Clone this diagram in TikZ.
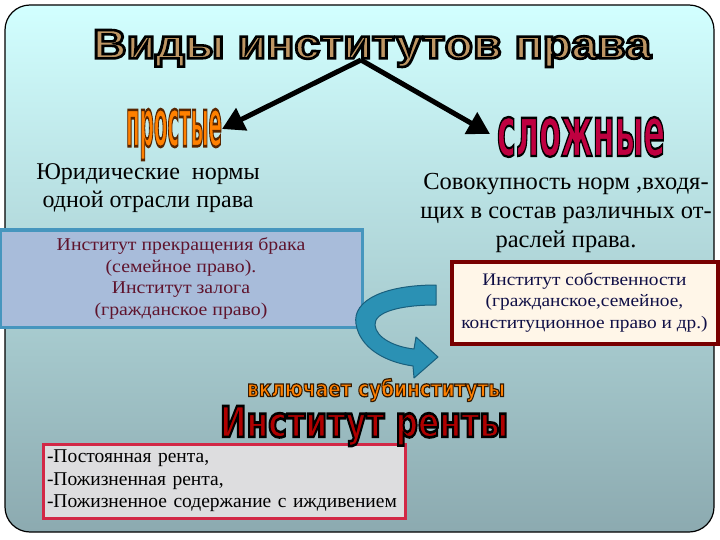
\documentclass[tikz,border=0pt]{standalone}
\usepackage{fontspec}
\setmainfont{Liberation Serif}
\newfontfamily\widef{Liberation Serif}[FakeStretch=1.1]
\newfontfamily\sansf{Liberation Sans}
\newfontfamily\heavyf{DejaVu Sans}
\usepackage{graphicx}
\usetikzlibrary{arrows.meta,fadings}
\definecolor{bgtop}{RGB}{210,255,255}
\definecolor{bgbot}{RGB}{140,170,176}
\definecolor{bluefill}{RGB}{168,188,218}
\definecolor{blueedge}{RGB}{70,150,190}
\definecolor{maroon}{RGB}{95,20,45}
\definecolor{redfill}{RGB}{255,246,232}
\definecolor{rededge}{RGB}{120,0,0}
\definecolor{navy}{RGB}{15,15,70}
\definecolor{grayfill}{RGB}{221,221,223}
\definecolor{crimson}{RGB}{210,40,70}
\definecolor{tealA}{RGB}{43,145,180}
\definecolor{tealB}{RGB}{25,95,125}
\newcommand\wa[3]{\raisebox{\depth}{\resizebox*{#1}{#2}{#3}}}
\newcommand\outl[3]{\special{pdf:literal direct #2 RG #1 w 2 Tr}#3\special{pdf:literal direct 0 Tr}}
\newcommand\txtTitle{\wa{558pt}{37pt}{\sansf\bfseries\fontsize{40}{40}\selectfont Виды институтов права}}
\newcommand\txtProst{\wa{96pt}{51pt}{\heavyf\bfseries\fontsize{50}{50}\selectfont простые}}
\newcommand\txtSlozh{\wa{168pt}{40pt}{\heavyf\bfseries\fontsize{60}{60}\selectfont сложные}}
\newcommand\txtVkl{\wa{258pt}{23pt}{\heavyf\bfseries\fontsize{22}{22}\selectfont включает субинституты}}
\newcommand\txtRent{\wa{288pt}{40pt}{\heavyf\bfseries\fontsize{40}{40}\selectfont Институт ренты}}
\tikzset{
  bigarr/.style={line width=5pt,-{Triangle[length=22pt,width=24pt]}},
  wart/.style={inner sep=0pt},
  bodytext/.style={align=center,font=\fontsize{24}{28}\selectfont,inner sep=0pt},
  bluebox/.style={draw=blueedge,fill=bluefill,line width=3pt,align=center,text=maroon,
    font=\widef\fontsize{18}{21.5}\selectfont,inner sep=0pt},
  redbox/.style={draw=rededge,fill=redfill,line width=4pt,align=center,text=navy,
    font=\widef\fontsize{17.6}{21.5}\selectfont,inner sep=0pt},
  graybox/.style={draw=crimson,fill=grayfill,line width=3pt,align=left,
    font=\fontsize{19.5}{22.5}\selectfont,inner sep=0pt},
}
\begin{document}
\pgfdeclarefading{ftitle}{\color{white}\txtTitle}
\pgfdeclarefading{fprost}{\color{white}\txtProst}
\pgfdeclarefading{fslozh}{\color{white}\txtSlozh}
\pgfdeclarefading{fvkl}{\color{white}\txtVkl}
\begin{tikzpicture}[x=1pt,y=-1pt]
\useasboundingbox (0,0) rectangle (720,540);
% background panel
\shadedraw[top color=bgtop,bottom color=bgbot,draw=black,line width=1.2pt,rounded corners=25pt]
  (5,5) rectangle (714,532);
% boxes
\node[bluebox,minimum width=362pt,minimum height=97pt] (inst) at (181,278.5)
  {Институт прекращения брака\\(семейное право).\\Институт залога\\(гражданское право)};
\node[redbox,minimum width=266pt,minimum height=82pt] (sobst) at (584.5,302.5)
  {Институт собственности\\(гражданское,семейное,\\конституционное право и др.)};
\node[graybox,minimum width=362pt,minimum height=74pt,text width=354pt] (list) at (224,481)
  {-Постоянная рента,\\-Пожизненная рента,\\-Пожизненное содержание с иждивением};
% body texts
\node[bodytext] (jur) at (148,188) {Юридические\ \ нормы\\одной отрасли права};
\node[bodytext,font=\fontsize{24.5}{29}\selectfont] (sov) at (566,213)
  {Совокупность норм ,входя-\\щих в состав различных от-\\раслей права.};
% curved ribbon arrow
\filldraw[fill=tealA,draw=tealB,line width=1pt,line join=round]
  (436,285) .. controls (385,285) and (352,300) .. (356,324)
  .. controls (360,348) and (385,362) .. (413,366) -- (414,378) -- (438,357)
  -- (416,337) -- (414,349) .. controls (395,347) and (376,338) .. (375,325)
  .. controls (374,312) and (400,305) .. (436,305) -- cycle;
% word-art titles
\node[wart,text={rgb,255:red,190;green,150;blue,100}] (title) at (372,48.5) {\outl{2.5}{0 0 0}{\txtTitle}};
\shade[path fading=ftitle,fit fading=false,top color={rgb,255:red,85;green,55;blue,25},
  bottom color={rgb,255:red,100;green,65;blue,30},middle color={rgb,255:red,225;green,195;blue,150}]
  (title.south west) rectangle (title.north east);
\node[wart,text=orange] (prost) at (174,134.5) {\outl{2}{0.35 0.15 0}{\txtProst}};
\shade[path fading=fprost,fit fading=false,top color={rgb,255:red,240;green,100;blue,0},
  bottom color={rgb,255:red,255;green,225;blue,40}]
  (prost.south west) rectangle (prost.north east);
\node[wart,text=purple] (slozh) at (581,137) {\outl{2}{0 0 0}{\txtSlozh}};
\shade[path fading=fslozh,fit fading=false,top color={rgb,255:red,35;green,20;blue,110},
  bottom color={rgb,255:red,235;green,30;blue,70},middle color={rgb,255:red,110;green,25;blue,130}]
  (slozh.south west) rectangle (slozh.north east);
\node[wart,text=orange] (vkl) at (376,390) {\outl{1.2}{0.2 0.1 0}{\txtVkl}};
\shade[path fading=fvkl,fit fading=false,top color={rgb,255:red,235;green,90;blue,0},
  bottom color={rgb,255:red,255;green,225;blue,40}]
  (vkl.south west) rectangle (vkl.north east);
\node[wart,text={rgb,255:red,175;green,0;blue,0}] (rent) at (364,426) {\outl{2.5}{0 0 0}{\txtRent}};
% connectors
\coordinate (split) at (361,60);
\coordinate (ltip) at (222,129);
\coordinate (rtip) at (490,134);
\draw[bigarr] (split) -- (ltip);
\draw[bigarr] (split) -- (rtip);
\end{tikzpicture}
\end{document}
